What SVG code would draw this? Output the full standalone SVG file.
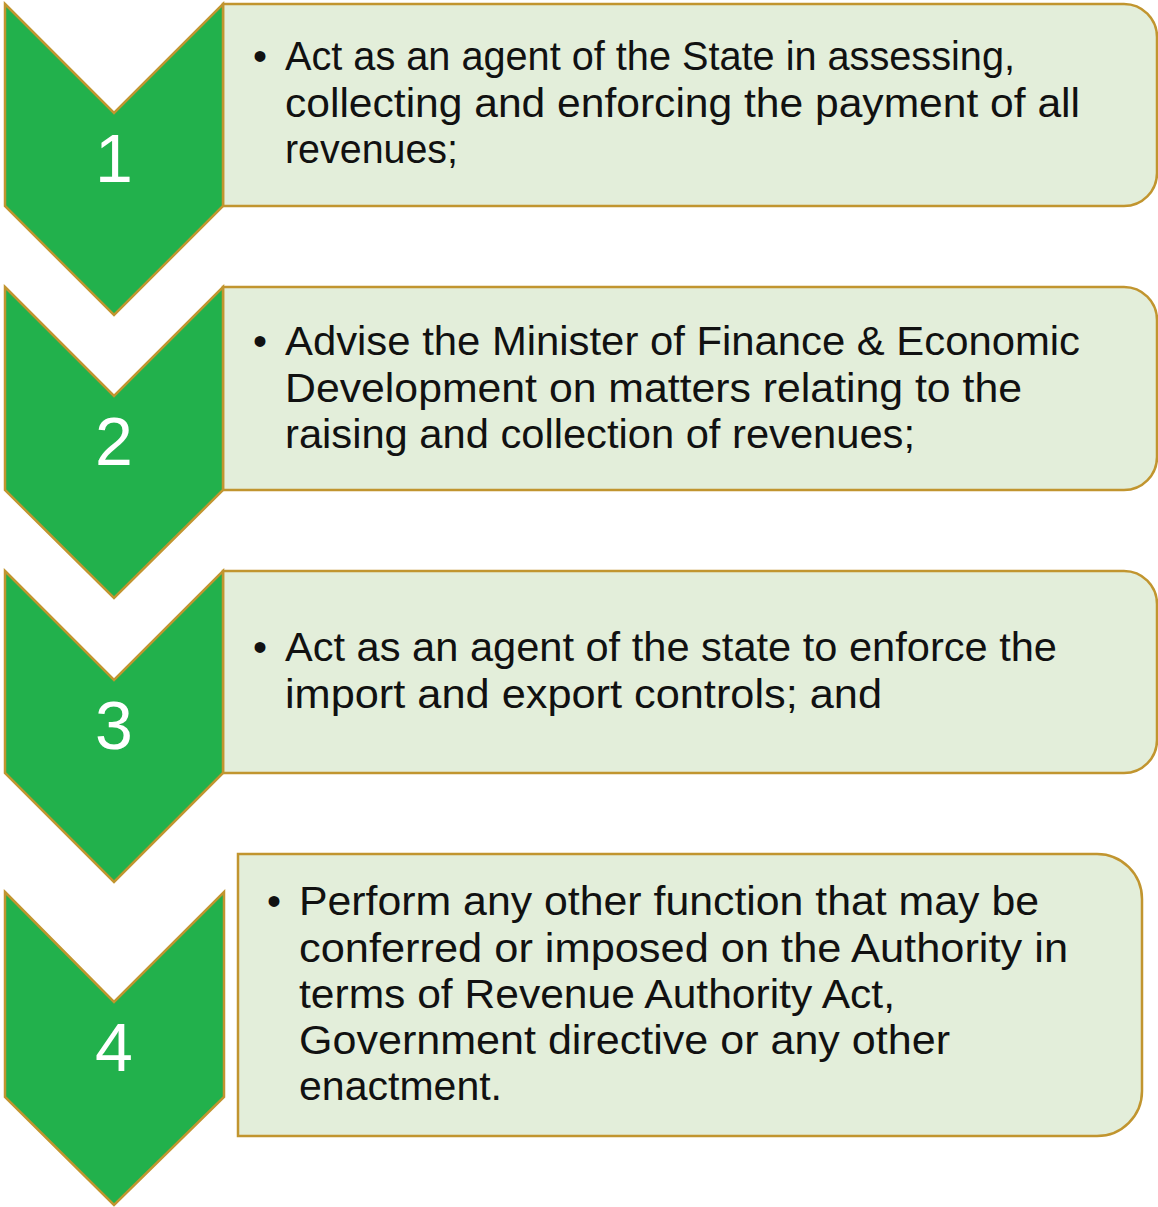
<svg xmlns="http://www.w3.org/2000/svg" width="1158" height="1207" viewBox="0 0 1158 1207">
  <style>
    .chev { fill: #22B14C; stroke: #C1952F; stroke-width: 2.5; stroke-linejoin: miter; }
    .box { fill: #E3EEDA; stroke: #C1952F; stroke-width: 2.5; }
    .num { font-family: "Liberation Sans", Arial, sans-serif; font-size: 68px; fill: #FFFFFF; text-anchor: middle; }
    .txt { font-family: "Liberation Sans", Arial, sans-serif; font-size: 40px; fill: #111111; }
    .bul { font-family: "Liberation Sans", Arial, sans-serif; font-size: 40px; fill: #111111; }
  </style>
  <rect width="1158" height="1207" fill="#FFFFFF"/>

  <g id="step1">
    <path class="box" d="M223 4 H1124 A33 33 0 0 1 1157 37 V173 A33 33 0 0 1 1124 206 H223 Z"/>
    <polygon class="chev" points="5,4 114,113 223,4 223,206 114,315 5,206"/>
    <text class="num" x="114" y="182">1</text>
    <text class="bul" x="253" y="70">•</text>
    <text class="txt" x="285" y="70" textLength="730" lengthAdjust="spacingAndGlyphs">Act as an agent of the State in assessing,</text>
    <text class="txt" x="285" y="116.5" textLength="795" lengthAdjust="spacingAndGlyphs">collecting and enforcing the payment of all</text>
    <text class="txt" x="285" y="163" textLength="173" lengthAdjust="spacingAndGlyphs">revenues;</text>
  </g>

  <g id="step2">
    <path class="box" d="M223 287 H1124 A33 33 0 0 1 1157 320 V457 A33 33 0 0 1 1124 490 H223 Z"/>
    <polygon class="chev" points="5,287 114,396 223,287 223,490 114,598 5,490"/>
    <text class="num" x="114" y="465">2</text>
    <text class="bul" x="253" y="355">•</text>
    <text class="txt" x="285" y="355" textLength="795" lengthAdjust="spacingAndGlyphs">Advise the Minister of Finance &amp; Economic</text>
    <text class="txt" x="285" y="401.5" textLength="737" lengthAdjust="spacingAndGlyphs">Development on matters relating to the</text>
    <text class="txt" x="285" y="448" textLength="630" lengthAdjust="spacingAndGlyphs">raising and collection of revenues;</text>
  </g>

  <g id="step3">
    <path class="box" d="M223 571 H1124 A33 33 0 0 1 1157 604 V740 A33 33 0 0 1 1124 773 H223 Z"/>
    <polygon class="chev" points="5,571 114,680 223,571 223,773 114,882 5,773"/>
    <text class="num" x="114" y="749">3</text>
    <text class="bul" x="253" y="661">•</text>
    <text class="txt" x="285" y="661" textLength="772" lengthAdjust="spacingAndGlyphs">Act as an agent of the state to enforce the</text>
    <text class="txt" x="285" y="708" textLength="597" lengthAdjust="spacingAndGlyphs">import and export controls; and</text>
  </g>

  <g id="step4">
    <path class="box" d="M238 854 H1097 A45 45 0 0 1 1142 899 V1091 A45 45 0 0 1 1097 1136 H238 Z"/>
    <polygon class="chev" points="5,892 114,1002 224,892 224,1097 114,1205 5,1097"/>
    <text class="num" x="114" y="1071">4</text>
    <text class="bul" x="267" y="915">•</text>
    <text class="txt" x="299" y="915" textLength="740" lengthAdjust="spacingAndGlyphs">Perform any other function that may be</text>
    <text class="txt" x="299" y="962" textLength="769" lengthAdjust="spacingAndGlyphs">conferred or imposed on the Authority in</text>
    <text class="txt" x="299" y="1008" textLength="596" lengthAdjust="spacingAndGlyphs">terms of Revenue Authority Act,</text>
    <text class="txt" x="299" y="1054" textLength="651" lengthAdjust="spacingAndGlyphs">Government directive or any other</text>
    <text class="txt" x="299" y="1100" textLength="203" lengthAdjust="spacingAndGlyphs">enactment.</text>
  </g>
</svg>
